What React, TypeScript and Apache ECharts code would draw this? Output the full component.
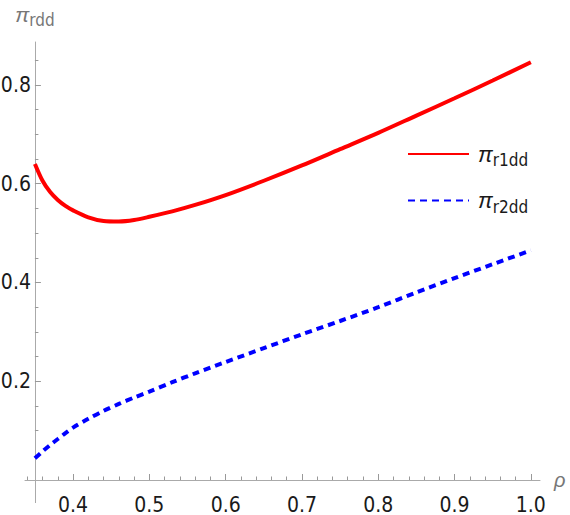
import React, { useEffect, useRef } from "react";
import * as echarts from "echarts";

const RHO = [0.35, 0.36, 0.37, 0.38, 0.39, 0.4, 0.42, 0.44, 0.46, 0.48, 0.5, 0.53, 0.56, 0.6, 0.65, 0.7, 0.75, 0.8, 0.85, 0.9, 0.95, 1.0];
const PI_R1DD = [0.64, 0.606, 0.583, 0.567, 0.555, 0.546, 0.532, 0.5245, 0.5235, 0.5265, 0.533, 0.544, 0.557, 0.577, 0.606, 0.637, 0.67, 0.703, 0.738, 0.773, 0.809, 0.846];
const PI_R2DD = [0.044, 0.058, 0.071, 0.083, 0.095, 0.106, 0.124, 0.14, 0.154, 0.167, 0.179, 0.198, 0.216, 0.239, 0.267, 0.295, 0.322, 0.35, 0.38, 0.409, 0.437, 0.465];
const SERIES_NAMES = ["πr1dd", "πr2dd"];
const X_MAJOR = [0.4, 0.5, 0.6, 0.7, 0.8, 0.9, 1.0];
const X_MINOR = [0.34, 0.36, 0.38, 0.42, 0.44, 0.46, 0.48, 0.52, 0.54, 0.56, 0.58, 0.62, 0.64, 0.66, 0.68, 0.72, 0.74, 0.76, 0.78, 0.82, 0.84, 0.86, 0.88, 0.92, 0.94, 0.96, 0.98];
const Y_MAJOR = [0.2, 0.4, 0.6, 0.8];
const Y_MINOR = [0.05, 0.1, 0.15, 0.25, 0.3, 0.35, 0.45, 0.5, 0.55, 0.65, 0.7, 0.75, 0.85];

const X_MIN = 0.337;
const X_MAX = 1.012;
const X_CROSS = 0.35;
const Y_MIN = 0;
const Y_MAX = 0.887;

const W = 570;
const H = 515;
const GRID = { left: 25, right: 30, top: 42, bottom: 35 };
const Y_AXIS_TAIL = 23;

const NARROW = "'Liberation Sans Narrow', 'DejaVu Sans Condensed', 'Liberation Sans', Arial, sans-serif";
const SANS = "'Liberation Sans', Arial, sans-serif";
const AXIS_COLOR = "#aaaaaa";
const TICK_COLOR = "#999999";
const LABEL_COLOR = "#1a1a1a";
const NAME_COLOR = "#777777";

export default function App() {
  const ref = useRef<HTMLDivElement>(null);

  useEffect(() => {
    document.body.style.margin = "0";
    if (!ref.current) return;
    const chart = echarts.init(ref.current, undefined, { renderer: "svg" });
    const gridW = W - GRID.left - GRID.right;
    const yOffset = -((X_CROSS - X_MIN) / (X_MAX - X_MIN)) * gridW;

    const xBase = {
      type: "value",
      min: X_MIN,
      max: X_MAX,
      position: "bottom",
      offset: 0,
      splitLine: { show: false },
    };
    const yBase = {
      type: "value",
      min: Y_MIN,
      max: Y_MAX,
      position: "left",
      offset: yOffset,
      splitLine: { show: false },
    };

    const fmt = (v: number) => v.toFixed(1);

    chart.setOption({
      animation: false,
      backgroundColor: "#ffffff",
      grid: { ...GRID, containLabel: false, outerBoundsMode: "none" },
      legend: {
        orient: "vertical",
        left: 407,
        top: 143,
        padding: 0,
        itemWidth: 61,
        itemHeight: 4,
        itemGap: 21,
        data: SERIES_NAMES,
        itemStyle: { opacity: 0 },
        formatter: (name: string) => `{pi|${name.slice(0, 1)}}{sub|${name.slice(1)}}`,
        textStyle: {
          color: LABEL_COLOR,
          padding: [0, 0, 0, 4],
          rich: {
            pi: { fontSize: 22, fontStyle: "italic", fontFamily: SANS, color: LABEL_COLOR },
            sub: { fontSize: 17, fontFamily: NARROW, color: LABEL_COLOR, padding: [12, 0, 0, 0] },
          },
        },
      },
      xAxis: [
        {
          ...xBase,
          name: "ρ",
          nameLocation: "end",
          nameGap: 14,
          nameTextStyle: { color: NAME_COLOR, fontStyle: "italic", fontSize: 20, fontFamily: SANS, padding: [6, 0, 0, 0] },
          axisLine: { show: true, onZero: false, lineStyle: { color: AXIS_COLOR, width: 1 } },
          axisTick: { show: true, inside: true, length: 6, customValues: X_MAJOR, lineStyle: { color: TICK_COLOR } },
          axisLabel: { show: true, customValues: X_MAJOR, formatter: fmt, margin: 16, fontSize: 21, lineHeight: 17, fontFamily: NARROW, color: LABEL_COLOR },
        },
        {
          ...xBase,
          axisLine: { show: false, onZero: false },
          axisTick: { show: true, inside: true, length: 3.5, customValues: X_MINOR, lineStyle: { color: TICK_COLOR } },
          axisLabel: { show: false },
        },
      ],
      yAxis: [
        {
          ...yBase,
          name: "{pi|π}{sub|rdd}",
          nameLocation: "end",
          nameGap: 14,
          nameTextStyle: {
            color: NAME_COLOR,
            rich: {
              pi: { fontSize: 21, fontStyle: "italic", fontFamily: SANS, color: NAME_COLOR },
              sub: { fontSize: 17, fontFamily: NARROW, color: NAME_COLOR, padding: [10, 0, 0, 0] },
            },
          },
          axisLine: { show: true, onZero: false, lineStyle: { color: AXIS_COLOR, width: 1 } },
          axisTick: { show: true, inside: true, length: 6, customValues: Y_MAJOR, lineStyle: { color: TICK_COLOR } },
          axisLabel: { show: true, customValues: Y_MAJOR, formatter: fmt, margin: 4, fontSize: 21, fontFamily: NARROW, color: LABEL_COLOR },
        },
        {
          ...yBase,
          axisLine: { show: false, onZero: false },
          axisTick: { show: true, inside: true, length: 3.5, customValues: Y_MINOR, lineStyle: { color: TICK_COLOR } },
          axisLabel: { show: false },
        },
      ],
      series: [
        {
          name: SERIES_NAMES[0],
          type: "line",
          xAxisIndex: 0,
          yAxisIndex: 0,
          symbol: "none",
          smooth: 0.3,
          data: RHO.map((r, i) => [r, PI_R1DD[i]]),
          lineStyle: { color: "#ff0000", width: 4 },
          itemStyle: { color: "#ff0000" },
        },
        {
          name: SERIES_NAMES[1],
          type: "line",
          xAxisIndex: 0,
          yAxisIndex: 0,
          symbol: "none",
          smooth: 0.3,
          data: RHO.map((r, i) => [r, PI_R2DD[i]]),
          lineStyle: { color: "#0000ff", width: 4, type: [7, 5], cap: "butt" },
          itemStyle: { color: "#0000ff" },
        },
      ],
    });

    const [cx, cy] = chart.convertToPixel({ xAxisIndex: 0, yAxisIndex: 0 }, [X_CROSS, Y_MIN]) as number[];
    const px = Math.round(cx) + 0.5;
    chart.setOption({
      graphic: [
        {
          type: "line",
          shape: { x1: px, y1: cy, x2: px, y2: cy + Y_AXIS_TAIL },
          style: { stroke: AXIS_COLOR, lineWidth: 1 },
          silent: true,
        },
      ],
    });

    return () => chart.dispose();
  }, []);

  return <div ref={ref} style={{ width: W, height: H }} />;
}
